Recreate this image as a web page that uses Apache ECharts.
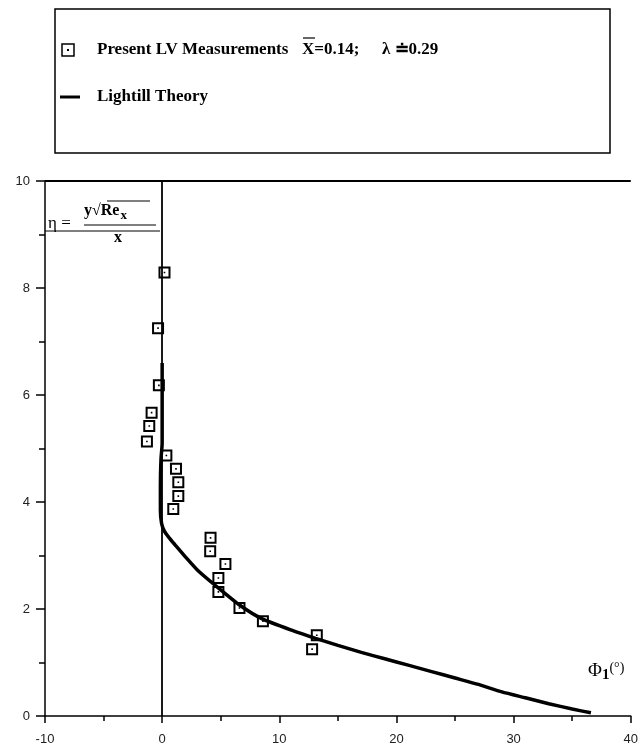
<!DOCTYPE html>
<html><head><meta charset="utf-8">
<script src="https://cdn.jsdelivr.net/npm/echarts@6/dist/echarts.min.js"></script>
<style>html,body{margin:0;padding:0;background:#fff}#c{width:641px;height:754px}</style>
</head><body><div id="c"></div>
<script>
// Present LV measurements (phi_1 in degrees, eta)
const lvPhi = [0.2, -0.35, -0.28, -0.9, -1.1, -1.3, 0.36, 1.18, 1.38, 1.38, 0.95, 4.13, 4.1, 5.4, 4.8, 4.8, 6.6, 8.6, 13.2, 12.8];
const lvEta = [8.29, 7.25, 6.18, 5.67, 5.42, 5.13, 4.87, 4.62, 4.37, 4.11, 3.87, 3.33, 3.08, 2.84, 2.58, 2.32, 2.02, 1.77, 1.51, 1.25];
// Lighthill theory curve
const thPhi = [0, 0, -0.1, -0.15, -0.15, -0.05, 0.2, 0.6, 1.1, 2.0, 3.0, 4.6, 6.7, 8.5, 11.1, 13.1, 15, 17, 19, 21, 23, 25, 27, 29, 31, 33, 35, 36.6];
const thEta = [6.6, 5.1, 4.8, 4.3, 3.85, 3.6, 3.45, 3.33, 3.2, 2.97, 2.73, 2.43, 2.06, 1.82, 1.6, 1.45, 1.32, 1.19, 1.07, 0.95, 0.83, 0.71, 0.59, 0.45, 0.34, 0.23, 0.13, 0.06];
// axes
const xMin = -10, xMax = 40, xStep = 10;
const yMin = 0, yMax = 10, yStep = 2;

const chart = echarts.init(document.getElementById('c'), null, {renderer: 'canvas'});
const lvData = lvPhi.map((x, i) => [x, lvEta[i]]);
const thData = thPhi.map((x, i) => [x, thEta[i]]);
const sym = 'path://M0,0L12,0L12,12L0,12Z M2,2L2,10L10,10L10,2Z M5.2,5.2L6.8,5.2L6.8,6.8L5.2,6.8Z';
const axisFont = {fontFamily: 'Liberation Sans', fontSize: 13, color: '#222'};
const serif = 'Liberation Serif';

chart.setOption({
  animation: false,
  backgroundColor: '#fff',
  grid: {left: 45, right: 1, top: 181, bottom: 38},
  xAxis: {
    type: 'value', min: xMin, max: xMax, interval: xStep,
    axisLine: {onZero: false, lineStyle: {color: '#000', width: 1.5}},
    axisTick: {length: 7, lineStyle: {color: '#000', width: 1.5}},
    minorTick: {show: true, splitNumber: 2, length: 5, lineStyle: {color: '#000', width: 1.5}},
    splitLine: {show: false},
    axisLabel: Object.assign({margin: 17}, axisFont)
  },
  yAxis: {
    type: 'value', min: yMin, max: yMax, interval: yStep,
    axisLine: {onZero: false, lineStyle: {color: '#000', width: 1.5}},
    axisTick: {length: 9, lineStyle: {color: '#000', width: 1.5}},
    minorTick: {show: true, splitNumber: 2, length: 6, lineStyle: {color: '#000', width: 1.5}},
    splitLine: {show: false},
    axisLabel: Object.assign({margin: 15}, axisFont)
  },
  series: [
    {
      type: 'line', data: thData, showSymbol: false, smooth: 0.2,
      lineStyle: {color: '#000', width: 3.5}, z: 3,
      markLine: {
        silent: true, symbol: 'none', label: {show: false},
        lineStyle: {color: '#000', width: 1.8, type: 'solid'},
        data: [{xAxis: 0}, {yAxis: 10}]
      }
    },
    {
      type: 'scatter', data: lvData, symbol: sym, symbolSize: 12,
      itemStyle: {color: '#000', opacity: 1}, z: 4
    }
  ],
  graphic: [
    // legend box
    {type: 'rect', shape: {x: 55, y: 9, width: 555, height: 144}, style: {fill: 'none', stroke: '#000', lineWidth: 1.5}},
    {type: 'rect', shape: {x: 62, y: 44, width: 12, height: 12}, style: {fill: 'none', stroke: '#000', lineWidth: 1.5}},
    {type: 'rect', shape: {x: 67, y: 49, width: 2, height: 2}, style: {fill: '#000'}},
    {type: 'text', x: 97, y: 50, style: {text: 'Present LV Measurements', font: 'bold 17px ' + serif, fill: '#000', verticalAlign: 'middle'}},
    {type: 'text', x: 302, y: 50, style: {text: 'X=0.14;', font: 'bold 17px ' + serif, fill: '#000', verticalAlign: 'middle'}},
    {type: 'line', shape: {x1: 303, y1: 38, x2: 315, y2: 38}, style: {stroke: '#000', lineWidth: 1.2}},
    {type: 'text', x: 382, y: 50, style: {text: 'λ ≐0.29', font: 'bold 17px ' + serif, fill: '#000', verticalAlign: 'middle'}},
    {type: 'line', shape: {x1: 60, y1: 97, x2: 80, y2: 97}, style: {stroke: '#000', lineWidth: 3}},
    {type: 'text', x: 97, y: 97, style: {text: 'Lightill Theory', font: 'bold 17px ' + serif, fill: '#000', verticalAlign: 'middle'}},
    // eta formula box
    {type: 'line', shape: {x1: 45, y1: 231, x2: 160, y2: 231}, style: {stroke: '#000', lineWidth: 1}},
    {type: 'text', x: 48, y: 224, style: {text: 'η =', font: '17px ' + serif, fill: '#000', verticalAlign: 'middle'}},
    {type: 'text', x: 84, y: 211, style: {
      text: '{a|y√Re}{s|x}',
      rich: {a: {font: 'bold 16px ' + serif, fill: '#000'}, s: {font: 'bold 13px ' + serif, fill: '#000', padding: [9, 0, 0, 1]}},
      verticalAlign: 'middle'}},
    {type: 'line', shape: {x1: 107, y1: 201, x2: 150, y2: 201}, style: {stroke: '#000', lineWidth: 1.2}},
    {type: 'line', shape: {x1: 84, y1: 225, x2: 156, y2: 225}, style: {stroke: '#000', lineWidth: 1.2}},
    {type: 'text', x: 114, y: 238, style: {text: 'x', font: 'bold 16px ' + serif, fill: '#000', verticalAlign: 'middle'}},
    // phi label
    {type: 'text', x: 588, y: 671, style: {
      text: '{p|Φ}{s|1}{d|(°)}',
      rich: {p: {font: '19px ' + serif, fill: '#000'}, s: {font: 'bold 15px ' + serif, fill: '#000', padding: [8, 0, 0, 0]}, d: {font: '14px ' + serif, fill: '#000', padding: [0, 0, 6, 0]}},
      verticalAlign: 'middle'}}
  ]
});
</script></body></html>
